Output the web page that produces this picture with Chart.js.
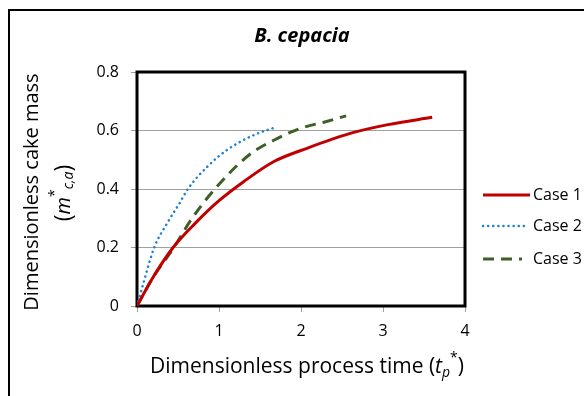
<!DOCTYPE html>
<html>
<head>
<meta charset="utf-8">
<script src="https://cdn.jsdelivr.net/npm/chart.js@4"></script>
<style>
  html, body { margin: 0; padding: 0; background: #fff; }
  #wrap { width: 584px; height: 396px; position: relative; }
</style>
</head>
<body>
<div id="wrap"><canvas id="myChart" width="584" height="396"></canvas></div>
<script>
// dados
const xTicks = [0, 1, 2, 3, 4];
const yTicks = [0, 0.2, 0.4, 0.6, 0.8];

const case1T = [0, 0.2, 0.44, 0.7, 1.0, 1.3, 1.67, 2.08, 2.6, 3.06, 3.6];
const case1Y = [0, 0.1, 0.2, 0.28, 0.36, 0.425, 0.494, 0.54, 0.59, 0.62, 0.645];

const case2T = [0, 0.07, 0.21, 0.37, 0.52, 0.62, 0.86, 1.1, 1.43, 1.7];
const case2Y = [0, 0.07, 0.2, 0.284, 0.352, 0.4, 0.477, 0.534, 0.585, 0.612];

const case3T = [0, 0.2, 0.45, 0.66, 0.95, 1.37, 1.72, 2.0, 2.3, 2.55];
const case3Y = [0, 0.1, 0.2, 0.295, 0.4, 0.517, 0.574, 0.608, 0.63, 0.65];

const seriesNames = ['Case 1', 'Case 2', 'Case 3'];

const FONT = '"Open Sans", sans-serif';

function pts(t, y) {
  return t.map((v, i) => ({ x: v, y: y[i] }));
}

// desenha texto com sub/sobrescrito
function richText(ctx, parts, cx, cy) {
  let total = 0;
  parts.forEach(p => {
    ctx.font = (p.italic ? 'italic ' : '') + p.size + 'px ' + FONT;
    p.w = ctx.measureText(p.text).width;
    total += p.w;
  });
  let x = cx - total / 2;
  ctx.textAlign = 'left';
  ctx.textBaseline = 'middle';
  parts.forEach(p => {
    ctx.font = (p.italic ? 'italic ' : '') + p.size + 'px ' + FONT;
    ctx.fillText(p.text, x, cy + (p.dy || 0));
    x += p.w;
  });
}

const extras = {
  id: 'extras',
  beforeDatasetsDraw(chart) {
    const { ctx, chartArea: a } = chart;
    ctx.save();
    ctx.strokeStyle = '#000';
    ctx.lineWidth = 3;
    ctx.strokeRect(a.left, a.top, a.right - a.left, a.bottom - a.top);
    ctx.restore();
  },
  afterDraw(chart) {
    const ctx = chart.ctx;
    ctx.save();
    // moldura externa
    ctx.strokeStyle = '#000';
    ctx.lineWidth = 2;
    ctx.beginPath();
    ctx.moveTo(9, 400);
    ctx.lineTo(9, 10);
    ctx.lineTo(590, 10);
    ctx.stroke();

    ctx.fillStyle = '#000';
    // titulo
    ctx.font = 'italic bold 20px ' + FONT;
    ctx.textAlign = 'center';
    ctx.textBaseline = 'middle';
    ctx.fillText('B. cepacia', 302, 36);

    // titulo do eixo x
    richText(ctx, [
      { text: 'Dimensionless process time (', size: 21 },
      { text: 't', size: 21, italic: true },
      { text: 'p', size: 14, italic: true, dy: 6 },
      { text: '*', size: 14, dy: -9 },
      { text: ')', size: 21 }
    ], 307, 367);

    // titulo do eixo y
    ctx.save();
    ctx.translate(32, 192);
    ctx.rotate(-Math.PI / 2);
    richText(ctx, [{ text: 'Dimensionless cake mass', size: 20 }], 0, 0);
    ctx.restore();
    ctx.save();
    ctx.translate(64, 193);
    ctx.rotate(-Math.PI / 2);
    richText(ctx, [
      { text: '(', size: 23 },
      { text: 'm', size: 20, italic: true },
      { text: '*', size: 14, dy: -9 },
      { text: 'c,a', size: 14, italic: true, dy: 5 },
      { text: ')', size: 23 }
    ], 0, 0);
    ctx.restore();

    // legenda
    const ly = [195, 226, 259];
    chart.data.datasets.forEach((ds, i) => {
      ctx.strokeStyle = ds.borderColor;
      ctx.lineWidth = ds.borderWidth;
      ctx.lineCap = ds.borderCapStyle || 'butt';
      ctx.setLineDash(ds.borderDash || []);
      ctx.beginPath();
      ctx.moveTo(483, ly[i]);
      ctx.lineTo(i === 0 ? 530 : (i === 1 ? 527 : 522), ly[i]);
      ctx.stroke();
      ctx.setLineDash([]);
      ctx.fillStyle = '#000';
      ctx.font = '16px ' + FONT;
      ctx.textAlign = 'left';
      ctx.textBaseline = 'middle';
      ctx.fillText(ds.label, 533, ly[i]);
    });
    ctx.restore();
  }
};

new Chart(document.getElementById('myChart'), {
  type: 'scatter',
  data: {
    datasets: [
      {
        label: seriesNames[0],
        data: pts(case1T, case1Y),
        showLine: true,
        borderColor: '#C00000',
        borderWidth: 3,
        pointRadius: 0,
        cubicInterpolationMode: 'monotone'
      },
      {
        label: seriesNames[1],
        data: pts(case2T, case2Y),
        showLine: true,
        borderColor: '#1F80D8',
        borderWidth: 2.5,
        borderDash: [0.1, 5],
        borderCapStyle: 'round',
        pointRadius: 0,
        cubicInterpolationMode: 'monotone'
      },
      {
        label: seriesNames[2],
        data: pts(case3T, case3Y),
        showLine: true,
        borderColor: '#3E5F27',
        borderWidth: 3,
        borderDash: [11, 7],
        pointRadius: 0,
        cubicInterpolationMode: 'monotone'
      }
    ]
  },
  options: {
    responsive: false,
    animation: false,
    layout: { padding: { left: 0, top: 72, right: 119, bottom: 0 } },
    plugins: { legend: { display: false }, tooltip: { enabled: false } },
    scales: {
      x: {
        type: 'linear',
        min: 0, max: 4,
        afterBuildTicks: s => { s.ticks = xTicks.map(v => ({ value: v })); },
        afterFit: s => { s.height = 90; },
        grid: { display: true, drawOnChartArea: false, drawTicks: true, tickLength: 6, color: '#a0a0a0' },
        border: { display: false },
        ticks: { color: '#000', font: { family: FONT, size: 16 }, padding: 10, maxRotation: 0 }
      },
      y: {
        type: 'linear',
        min: 0, max: 0.8,
        afterBuildTicks: s => { s.ticks = yTicks.map(v => ({ value: v })); },
        afterFit: s => { s.width = 137; },
        grid: { color: '#a0a0a0', lineWidth: 1, tickLength: 6 },
        border: { display: false },
        ticks: { color: '#000', font: { family: FONT, size: 16 }, padding: 12,
          callback: v => String(v) }
      }
    }
  },
  plugins: [extras]
});
</script>
</body>
</html>
